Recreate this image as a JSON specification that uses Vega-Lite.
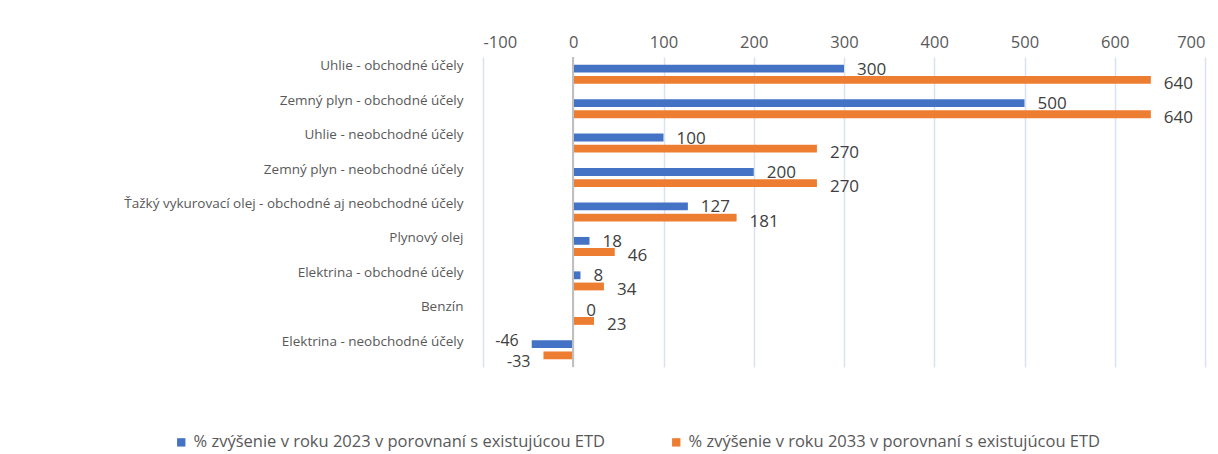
{
  "$schema": "https://vega.github.io/schema/vega-lite/v6.json",
  "autosize": {"type": "none"},
  "padding": {"left": 483, "top": 57, "right": 13, "bottom": 87},
  "width": 722,
  "height": 310,
  "config": {
    "view": {"stroke": null},
    "font": "Open Sans",
    "axis": {"labelFont": "Open Sans", "labelColor": "#595959"},
    "legend": {"labelFont": "Open Sans"}
  },
  "data": {
    "values": [
      {"kat": "Uhlie - obchodné účely", "rad": "% zvýšenie v roku 2023 v porovnaní s existujúcou ETD", "hod": 300},
      {"kat": "Uhlie - obchodné účely", "rad": "% zvýšenie v roku 2033 v porovnaní s existujúcou ETD", "hod": 640},
      {"kat": "Zemný plyn - obchodné účely", "rad": "% zvýšenie v roku 2023 v porovnaní s existujúcou ETD", "hod": 500},
      {"kat": "Zemný plyn - obchodné účely", "rad": "% zvýšenie v roku 2033 v porovnaní s existujúcou ETD", "hod": 640},
      {"kat": "Uhlie - neobchodné účely", "rad": "% zvýšenie v roku 2023 v porovnaní s existujúcou ETD", "hod": 100},
      {"kat": "Uhlie - neobchodné účely", "rad": "% zvýšenie v roku 2033 v porovnaní s existujúcou ETD", "hod": 270},
      {"kat": "Zemný plyn - neobchodné účely", "rad": "% zvýšenie v roku 2023 v porovnaní s existujúcou ETD", "hod": 200},
      {"kat": "Zemný plyn - neobchodné účely", "rad": "% zvýšenie v roku 2033 v porovnaní s existujúcou ETD", "hod": 270},
      {"kat": "Ťažký vykurovací olej - obchodné aj neobchodné účely", "rad": "% zvýšenie v roku 2023 v porovnaní s existujúcou ETD", "hod": 127},
      {"kat": "Ťažký vykurovací olej - obchodné aj neobchodné účely", "rad": "% zvýšenie v roku 2033 v porovnaní s existujúcou ETD", "hod": 181},
      {"kat": "Plynový olej", "rad": "% zvýšenie v roku 2023 v porovnaní s existujúcou ETD", "hod": 18},
      {"kat": "Plynový olej", "rad": "% zvýšenie v roku 2033 v porovnaní s existujúcou ETD", "hod": 46},
      {"kat": "Elektrina - obchodné účely", "rad": "% zvýšenie v roku 2023 v porovnaní s existujúcou ETD", "hod": 8},
      {"kat": "Elektrina - obchodné účely", "rad": "% zvýšenie v roku 2033 v porovnaní s existujúcou ETD", "hod": 34},
      {"kat": "Benzín", "rad": "% zvýšenie v roku 2023 v porovnaní s existujúcou ETD", "hod": 0},
      {"kat": "Benzín", "rad": "% zvýšenie v roku 2033 v porovnaní s existujúcou ETD", "hod": 23},
      {"kat": "Elektrina - neobchodné účely", "rad": "% zvýšenie v roku 2023 v porovnaní s existujúcou ETD", "hod": -46},
      {"kat": "Elektrina - neobchodné účely", "rad": "% zvýšenie v roku 2033 v porovnaní s existujúcou ETD", "hod": -33}
    ]
  },
  "encoding": {
    "y": {
      "field": "kat", "type": "nominal", "sort": null,
      "scale": {"paddingInner": 0.448, "paddingOuter": 0.224},
      "axis": {"title": null, "domain": false, "ticks": false, "grid": false, "labelPadding": 20, "labelFontSize": 13.5, "labelOffset": -8, "labelLimit": 500}
    },
    "yOffset": {
      "field": "rad", "type": "nominal",
      "sort": ["% zvýšenie v roku 2023 v porovnaní s existujúcou ETD", "% zvýšenie v roku 2033 v porovnaní s existujúcou ETD"],
      "scale": {"paddingInner": 0.3, "paddingOuter": 0}
    }
  },
  "layer": [
    {
      "mark": {"type": "bar", "cornerRadius": 0},
      "encoding": {
        "x": {
          "field": "hod", "type": "quantitative",
          "scale": {"domain": [-100, 700], "nice": false, "zero": false},
          "axis": {"orient": "top", "title": null, "values": [-100, 0, 100, 200, 300, 400, 500, 600, 700], "labelExpr": "'' + datum.value", "domain": false, "ticks": false, "grid": true, "gridColor": "#D9E1F2", "gridWidth": 1.5, "labelFontSize": 16.5, "labelPadding": 7}
        },
        "color": {
          "field": "rad", "type": "nominal",
          "scale": {"domain": ["% zvýšenie v roku 2023 v porovnaní s existujúcou ETD", "% zvýšenie v roku 2033 v porovnaní s existujúcou ETD"], "range": ["#4472C4", "#ED7D31"]},
          "legend": {"title": null, "orient": "none", "direction": "horizontal", "legendX": -310, "legendY": 377, "symbolType": "square", "symbolSize": 70, "symbolStrokeWidth": 0, "labelFontSize": 16.5, "labelColor": "#595959", "columnPadding": 62, "labelLimit": 600, "symbolOffset": 0, "labelOffset": 4}
        }
      }
    },
    {
      "mark": {"type": "rule", "color": "#BFBFBF", "strokeWidth": 1.5},
      "encoding": {"x": {"datum": 0}, "y": null, "yOffset": null}
    },
    {
      "transform": [{"filter": "datum.hod >= 0 && indexof(datum.rad, '2023') >= 0"}],
      "mark": {"type": "text", "align": "left", "dx": 13, "dy": 1, "fontSize": 17, "color": "#404040"},
      "encoding": {"x": {"field": "hod", "type": "quantitative"}, "text": {"field": "hod", "type": "nominal"}}
    },
    {
      "transform": [{"filter": "datum.hod >= 0 && indexof(datum.rad, '2033') >= 0"}],
      "mark": {"type": "text", "align": "left", "dx": 13, "dy": 4, "fontSize": 17, "color": "#404040"},
      "encoding": {"x": {"field": "hod", "type": "quantitative"}, "text": {"field": "hod", "type": "nominal"}}
    },
    {
      "transform": [{"filter": "datum.hod < 0 && indexof(datum.rad, '2023') >= 0"}],
      "mark": {"type": "text", "align": "right", "dx": -13, "dy": -3, "fontSize": 16, "color": "#404040"},
      "encoding": {"x": {"field": "hod", "type": "quantitative"}, "text": {"field": "hod", "type": "nominal"}}
    },
    {
      "transform": [{"filter": "datum.hod < 0 && indexof(datum.rad, '2033') >= 0"}],
      "mark": {"type": "text", "align": "right", "dx": -13, "dy": 7, "fontSize": 16, "color": "#404040"},
      "encoding": {"x": {"field": "hod", "type": "quantitative"}, "text": {"field": "hod", "type": "nominal"}}
    }
  ]
}
